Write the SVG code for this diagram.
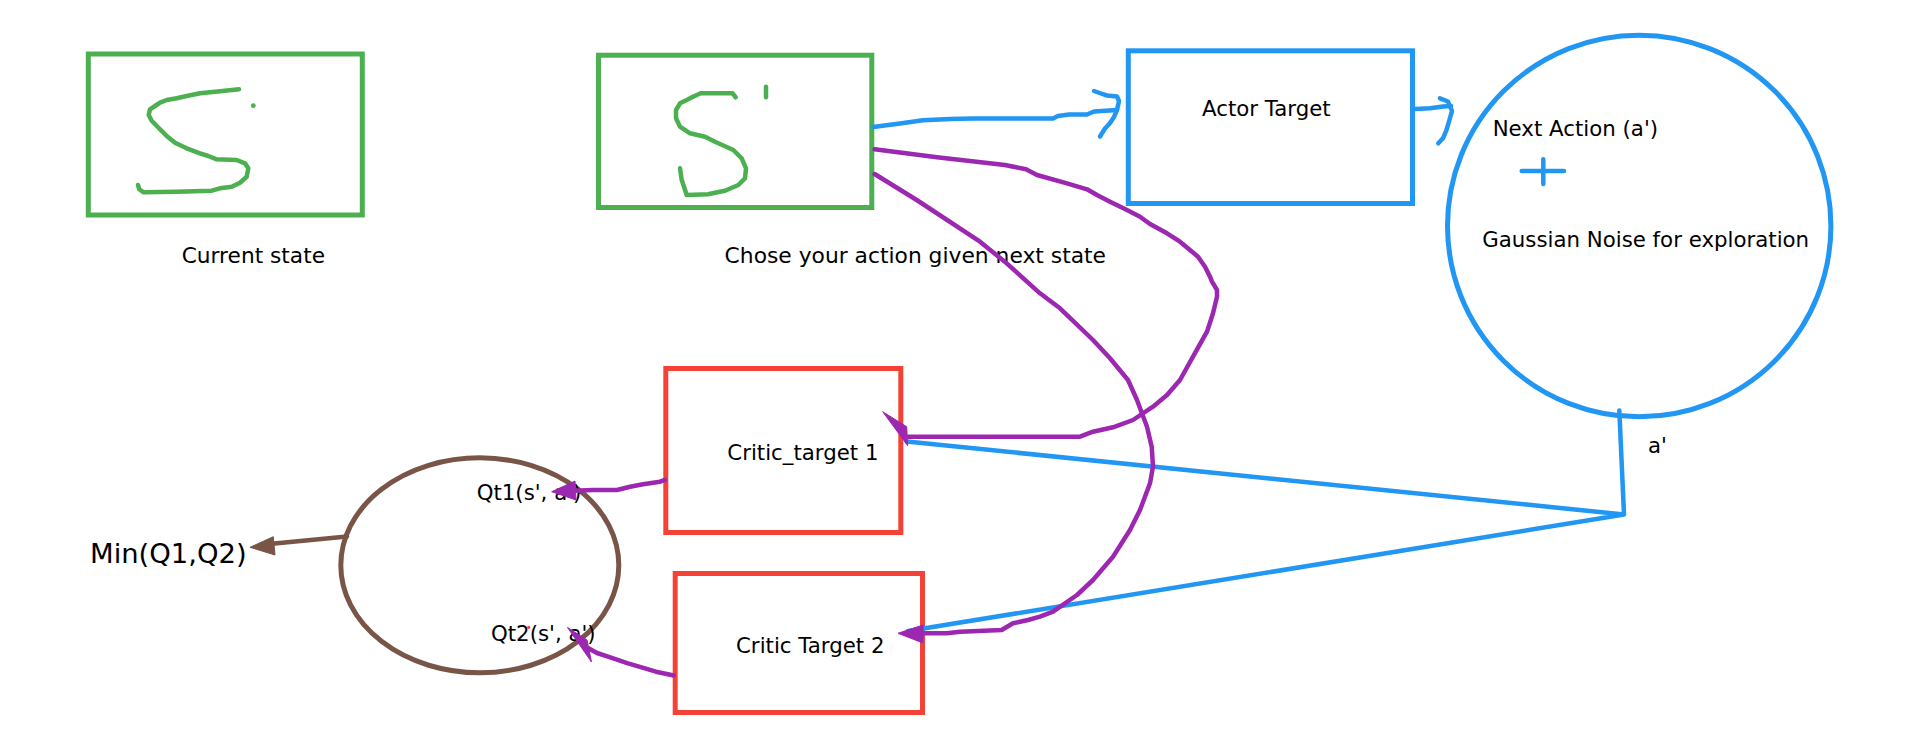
<svg xmlns="http://www.w3.org/2000/svg" width="1920" height="747" viewBox="0 0 1920 747">
<style>
text{font-family:"DejaVu Sans","Verdana",sans-serif;font-size:21.3px;fill:#000}
.g{fill:none;stroke:#4CAF50;stroke-width:5}
.gs{fill:none;stroke:#4CAF50;stroke-width:4.5;stroke-linecap:round;stroke-linejoin:round}
.b{fill:none;stroke:#2196F3;stroke-width:5}
.bl{fill:none;stroke:#2196F3;stroke-width:4.5;stroke-linecap:round;stroke-linejoin:round}
.r{fill:none;stroke:#F44336;stroke-width:5}
.p{fill:none;stroke:#9C27B0;stroke-width:4.5;stroke-linecap:round;stroke-linejoin:round}
.pa{fill:#9C27B0;stroke:#9C27B0;stroke-width:1;stroke-linejoin:round}
.br{fill:none;stroke:#795548;stroke-width:5}
.brl{fill:none;stroke:#795548;stroke-width:4.5;stroke-linecap:round}
.bra{fill:#795548;stroke:#795548;stroke-width:1}
</style>
<rect width="1920" height="747" fill="#fff"/>
<g id="current-state">
<rect class="g" x="88.3" y="54" width="274" height="161"/>
<path class="gs" d="M239,89.3 L220,91.3 L200,93.3 L186.7,96 L176.7,98.3 L166.7,100 L160,102.7 L155,106 L150,109.3 L148.7,115 L151.7,120.7 L160,129.3 L166.7,136 L175,142.7 L186.7,148.3 L200,153.3 L208.3,156 L216.7,159.3 L236.7,160 L245,163.3 L248.3,168.3 L246.7,176.7 L240,182.7 L231.7,186.7 L220,188.3 L211.7,190.7 L176.7,191.7 L143.3,192.3 L139.3,189.3 L138,185"/>
<circle cx="253.3" cy="105.7" r="2.4" fill="#4CAF50"/>
<text x="181.7" y="262.5" style="font-size:21.7px">Current state</text>
</g>
<g id="next-state">
<rect class="g" x="598.5" y="55.2" width="273.3" height="152.3"/>
<path class="gs" d="M735.7,97.3 L732.7,93.3 L700.7,93.3 L693,96.7 L686.7,100 L680,103.3 L676,110 L676,118.3 L680,126.7 L690,133.3 L705,136.7 L715,141.7 L733.3,150 L741.7,158.3 L746,168.3 L745,178.3 L738.3,185 L725,190.7 L715,192.7 L708.3,194.3 L686.7,195 L684,186.7 L681.7,180 L680,168.3"/>
<path class="gs" d="M766,86.7 L766,97.3"/>
<text x="724.6" y="263" style="font-size:21.8px">Chose your action given next state</text>
</g>
<g id="actor-target">
<rect class="b" x="1128.3" y="50.8" width="284.2" height="152.7"/>
<text x="1202" y="116">Actor Target</text>
</g>
<g id="noise">
<ellipse class="b" cx="1639.2" cy="226" rx="191.7" ry="190.8"/>
<text x="1492.7" y="136">Next Action (a')</text>
<path class="bl" d="M1521.7,171 L1564,171 M1543.3,159.3 L1543.3,184"/>
<text x="1482.3" y="247">Gaussian Noise for exploration</text>
</g>
<g id="critic-target-1">
<rect class="r" x="665.8" y="368.5" width="235" height="164"/>
<text x="727.3" y="460">Critic_target 1</text>
</g>
<g id="critic-target-2">
<rect class="r" x="675.2" y="573.5" width="247.3" height="139"/>
<text x="736" y="653.3">Critic Target 2</text>
</g>
<g id="q-values">
<ellipse class="br" cx="479.8" cy="565.3" rx="139" ry="107.5"/>
<text x="476.7" y="500">Qt1(s', a')</text>
<text x="491" y="641">Qt2(s', a')</text>
<circle cx="528.7" cy="627.3" r="1.6" fill="#F44336"/>
</g>
<g id="min-q">
<text x="90" y="562.7" style="font-size:27.4px">Min(Q1,Q2)</text>
</g>
<g id="connectors">
<path class="bl" d="M873,127 L900,123.5 L923,120.3 L950,119 L973,118.5 L1053,118.5 L1058,116 L1069,114.5 L1087,114.5 L1094,111.5 L1117,110"/>
<path class="bl" d="M1094,91 L1101,93.5 L1107,95.5 L1117,96.5 L1119,101 L1117,110 L1114,117 L1110,123 L1105,128.5 L1100,136.5"/>
<path class="bl" d="M1415,109 L1430,108.3 L1443,106.5 L1451,106"/>
<path class="bl" d="M1440,98.3 L1448,101.5 L1452,111 L1449,121.5 L1446.5,130 L1443,138.3 L1438.3,143.3"/>
<path class="bl" d="M1619.3,410.5 L1624,514.5 L906.7,441.5 M1624,514.5 L908,631"/>
<text x="1648" y="453">a'</text>
<path class="p" d="M874.6,149.3 L937,157.3 L1005,165 L1026,169.3 L1037,175 L1067,183.3 L1087,189.3 L1097,195 L1110,201.7 L1127,210 L1140,216.7 L1150,224 L1167,233.3 L1180,241.7 L1190,250 L1198,256.7 L1205,266.7 L1210,276.7 L1212,281.7 L1217,290 L1217,296.7 L1213,313.3 L1207,331.7 L1193,356.7 L1180,380 L1167,395 L1153,406.7 L1133,420 L1113,427.3 L1093,431.7 L1080,436.7 L906.7,436.7"/>
<polygon class="pa" points="882.7,411.7 906.7,426.7 907.7,445.7"/>
<path class="p" d="M874.6,174 L916.7,200 L980,241.7 L1006.7,263.3 L1040,293.3 L1060,308.3 L1093,340 L1110,358.3 L1128,380 L1137,400 L1147,426.7 L1151.7,446.7 L1153,466.7 L1150,483.3 L1140,510 L1130,530 L1113,556.7 L1093,580 L1077,595 L1053,611.7 L1040,616.7 L1028,620 L1013,623.3 L1001.7,630 L960,631.7 L946.7,633.3 L920,633.3"/>
<polygon class="pa" points="898,633.3 923,625 923,643"/>
<path class="p" d="M665,480 L660,481.7 L643,484.3 L630,486.7 L617,490 L593,490 L574,490.7"/>
<polygon class="pa" points="551.7,491.7 575,481 576,500"/>
<path class="p" d="M673.7,675.5 L656,671.7 L628,663.3 L608,656.7 L597,653 L588,648"/>
<polygon class="pa" points="567.5,627.5 587,640 591.5,662"/>
<path class="brl" d="M347,536.5 L272,543.7"/>
<polygon class="bra" points="250,547.3 273.3,536.7 275,555"/>
</g>
</svg>
